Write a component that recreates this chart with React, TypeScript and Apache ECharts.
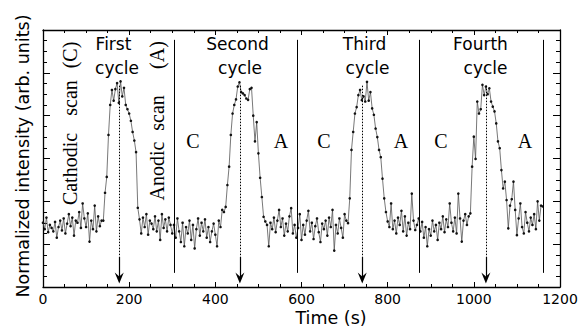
import React, { useEffect, useRef } from "react";
import * as echarts from "echarts";

// Sampling interval of the recorded signal (seconds between points)
const SAMPLE_STEP_S = 4;

// Normalized intensity, one value every SAMPLE_STEP_S seconds from t = 0 s
const INTENSITY = [
  // 0 - 136 s
  1.50, 1.35, 1.62, 1.28, 1.45, 1.38, 1.30, 1.52, 1.15, 1.40,
  1.55, 1.32, 1.60, 1.25, 1.48, 1.70, 1.42, 1.62, 1.20, 1.55,
  1.50, 1.75, 1.38, 1.95, 1.60, 1.40, 1.72, 1.06, 1.55, 1.35,
  1.90, 1.30, 1.65, 1.42, 1.55,
  // 140 - 224 s (first peak)
  1.55, 2.20, 2.57, 3.55, 4.25, 4.60, 4.35, 4.62, 4.76, 4.30,
  4.80, 4.45, 4.65, 4.25, 4.15, 4.05, 3.88, 3.62, 3.42, 3.15,
  1.85, 1.58,
  // 228 - 300 s
  1.25, 1.62, 1.40, 1.70, 1.22, 1.55, 1.48, 1.35, 1.65, 1.30,
  1.55, 1.10, 1.70, 1.38, 1.58, 1.30, 1.62, 1.45, 1.25,
  // 304 - 416 s
  1.45, 1.15, 1.60, 1.30, 1.05, 1.50, 0.95, 1.40, 1.25, 1.55,
  1.10, 1.45, 0.90, 1.35, 1.60, 1.20, 1.50, 1.30, 1.58, 1.15,
  1.40, 1.05, 1.30, 1.48, 1.22, 0.95, 1.55, 1.40, 1.80,
  // 420 - 516 s (second peak)
  1.75, 1.87, 2.38, 2.81, 3.55, 4.05, 4.25, 4.38, 4.68, 4.78,
  4.55, 4.52, 4.48, 4.40, 4.37, 4.62, 4.65, 4.00, 3.40, 3.85,
  3.12, 2.55, 2.10, 1.64, 1.53,
  // 520 - 704 s
  1.45, 0.95, 1.50, 1.35, 1.62, 1.28, 1.55, 1.80, 1.40, 1.60,
  1.20, 1.48, 1.30, 1.65, 1.84, 1.25, 1.45, 1.15, 1.38, 1.70,
  1.10, 1.45, 1.22, 1.55, 1.78, 1.30, 1.50, 1.12, 1.42, 1.60,
  1.28, 1.05, 1.48, 1.35, 1.55, 1.20, 1.62, 1.40, 1.80, 0.85,
  1.45, 1.25, 1.60, 1.38, 1.15, 1.70, 1.55,
  // 708 - 800 s (third peak)
  1.49, 2.07, 3.20, 3.62, 4.05, 4.20, 4.48, 4.60, 4.36, 4.45,
  4.33, 4.79, 4.35, 4.55, 4.17, 4.02, 3.70, 3.50, 3.20, 3.03,
  2.53, 2.07, 1.75, 1.53,
  // 804 - 988 s
  1.40, 1.95, 1.35, 1.55, 1.25, 1.62, 1.45, 1.78, 1.30, 1.65,
  1.20, 1.50, 1.35, 2.18, 1.55, 1.33, 1.45, 1.60, 1.30, 1.52,
  1.15, 1.40, 0.95, 1.35, 1.20, 1.55, 1.30, 1.45, 1.10, 1.50,
  1.35, 1.65, 1.28, 1.58, 1.40, 1.95, 1.50, 1.30, 1.62, 1.25,
  2.18, 1.60, 1.06, 1.55, 1.70, 1.45, 1.65,
  // 992 - 1100 s (fourth peak)
  1.72, 2.81, 3.51, 2.99, 4.33, 4.05, 4.15, 4.72, 4.48, 4.68,
  4.50, 4.64, 4.33, 4.21, 4.10, 3.82, 3.40, 3.24, 2.73, 2.30,
  2.46, 2.03, 1.37, 1.90, 2.05, 2.46, 1.80, 1.21,
  // 1104 - 1160 s
  1.60, 1.95, 1.40, 1.25, 1.75, 1.50, 1.30, 1.62, 1.45, 1.70,
  1.35, 2.00, 1.55, 1.90, 1.88,
];

// Cycle boundaries (solid vertical lines) and peak markers (dotted arrows), in s
const CYCLE_BOUNDARIES_S = [304, 589, 874, 1160];
const BOUNDARY_LOW = 0.33;
const BOUNDARY_HIGH = 5.77;
const PEAK_TIMES_S = [177, 457, 741, 1028];
const ARROW_TOP = 4.7;
const ARROW_STEM_TOP = 0.7;
const ARROW_TIP = 0.21;

const CYCLE_TITLES = ["First", "Second", "Third", "Fourth"];
const CYCLE_WORD = "cycle";

const SANS = "DejaVu Sans";
const SERIF = "Liberation Serif";

export default function App() {
  const ref = useRef<HTMLDivElement>(null);

  useEffect(() => {
    if (!ref.current) return;
    const chart = echarts.init(ref.current, undefined, { renderer: "svg" });

    const points = INTENSITY.map((v, i) => [i * SAMPLE_STEP_S, v]);

    const axisCommon = {
      type: "value" as const,
      axisLine: { show: true, onZero: false, lineStyle: { color: "#000", width: 1.3 } },
      splitLine: { show: false },
    };

    const titlePos = [
      { x1: 113.5, x2: 117 },
      { x1: 237.5, x2: 240 },
      { x1: 364.5, x2: 367.5 },
      { x1: 480.5, x2: 485.5 },
    ];
    const cPos = [193, 324, 441];
    const aPos = [281, 401, 525];

    const graphics: any[] = [];
    CYCLE_TITLES.forEach((t, i) => {
      graphics.push({
        type: "text", x: titlePos[i].x1, y: 44, silent: true,
        style: { text: t, fontFamily: SANS, fontSize: 17, fill: "#000", align: "center", verticalAlign: "middle" },
      });
      graphics.push({
        type: "text", x: titlePos[i].x2, y: 68, silent: true,
        style: { text: CYCLE_WORD, fontFamily: SANS, fontSize: 17, fill: "#000", align: "center", verticalAlign: "middle" },
      });
    });
    cPos.forEach((x) =>
      graphics.push({
        type: "text", x, y: 141, silent: true,
        style: { text: "C", fontFamily: SERIF, fontSize: 20, fill: "#000", align: "center", verticalAlign: "middle" },
      })
    );
    aPos.forEach((x) =>
      graphics.push({
        type: "text", x, y: 141, silent: true,
        style: { text: "A", fontFamily: SERIF, fontSize: 20, fill: "#000", align: "center", verticalAlign: "middle" },
      })
    );
    const rotWord = (text: string, x: number, y: number) => ({
      type: "text", x, y, rotation: Math.PI / 2, silent: true,
      style: { text, fontFamily: SERIF, fontSize: 20, fill: "#000", align: "center", verticalAlign: "middle" },
    });
    graphics.push(rotWord("Cathodic", 70, 169));
    graphics.push(rotWord("scan", 70, 98));
    graphics.push(rotWord("(C)", 70, 55));
    graphics.push(rotWord("Anodic", 157, 171));
    graphics.push(rotWord("scan", 157, 113));
    graphics.push(rotWord("(A)", 157, 55));
    graphics.push({
      type: "text", x: 23, y: 156, rotation: Math.PI / 2, silent: true,
      style: { text: "Normalized intensity (arb. units)", fontFamily: SANS, fontSize: 17.5, fill: "#000", align: "center", verticalAlign: "middle" },
    });
    graphics.push({
      type: "text", x: 331, y: 318, silent: true,
      style: { text: "Time (s)", fontFamily: SANS, fontSize: 17.5, fill: "#000", align: "center", verticalAlign: "middle" },
    });

    const tickLabel = {
      show: true, color: "#000", fontFamily: SANS, fontSize: 14, margin: 5,
      formatter: (v: number) => String(v),
    };

    chart.setOption({
      animation: false,
      backgroundColor: "#fff",
      grid: { left: 43, right: 19, top: 30, bottom: 40, containLabel: false, outerBoundsMode: "none" },
      xAxis: [
        {
          ...axisCommon,
          position: "bottom",
          min: 0, max: 1200, interval: 200,
          axisTick: { show: true, inside: true, length: 5, lineStyle: { color: "#000" } },
          minorTick: { show: true, splitNumber: 4, length: 3, lineStyle: { color: "#000" } },
          axisLabel: tickLabel,
        },
        {
          ...axisCommon,
          position: "top",
          min: 0, max: 1200, interval: 200,
          axisTick: { show: true, inside: true, length: 5, lineStyle: { color: "#000" } },
          minorTick: { show: true, splitNumber: 4, length: 3, lineStyle: { color: "#000" } },
          axisLabel: { show: false },
        },
      ],
      yAxis: [
        {
          ...axisCommon,
          position: "left",
          min: 0, max: 6, interval: 1,
          axisTick: { show: true, inside: true, length: 7, lineStyle: { color: "#000" } },
          minorTick: { show: true, splitNumber: 4, length: 4, lineStyle: { color: "#000" } },
          axisLabel: { show: false },
        },
        {
          ...axisCommon,
          position: "right",
          min: 0, max: 6, interval: 1,
          axisTick: { show: true, inside: true, length: 7, lineStyle: { color: "#000" } },
          minorTick: { show: true, splitNumber: 4, length: 4, lineStyle: { color: "#000" } },
          axisLabel: { show: false },
        },
      ],
      series: [
        {
          type: "line",
          data: points,
          symbol: "circle",
          symbolSize: 2.6,
          showSymbol: true,
          showAllSymbol: true,
          lineStyle: { color: "#555", width: 0.8 },
          itemStyle: { color: "#111" },
          silent: true,
          z: 3,
        },
        {
          type: "line",
          data: [],
          silent: true,
          markLine: {
            silent: true,
            animation: false,
            symbol: ["none", "none"],
            label: { show: false },
            lineStyle: { color: "#000", width: 1, type: "solid" },
            data: CYCLE_BOUNDARIES_S.map((t) => [
              { coord: [t, BOUNDARY_LOW] },
              { coord: [t, BOUNDARY_HIGH] },
            ]),
          },
        },
        {
          type: "line",
          data: [],
          silent: true,
          markLine: {
            silent: true,
            animation: false,
            symbol: ["none", "none"],
            label: { show: false },
            lineStyle: { color: "#000", width: 1, type: [1.5, 1.5] },
            data: PEAK_TIMES_S.map((t) => [
              { coord: [t, ARROW_TOP] },
              { coord: [t, ARROW_STEM_TOP] },
            ]),
          },
        },
        {
          type: "line",
          data: [],
          silent: true,
          markLine: {
            silent: true,
            animation: false,
            symbol: ["none", "path://M5,0 L10,11 L5,7 L0,11 Z"],
            symbolSize: [9, 11],
            label: { show: false },
            lineStyle: { color: "#000", width: 1.2, type: "solid" },
            itemStyle: { color: "#000" },
            data: PEAK_TIMES_S.map((t) => [
              { coord: [t, ARROW_STEM_TOP] },
              { coord: [t, ARROW_TIP] },
            ]),
          },
        },
      ],
      graphic: graphics,
    });

    return () => chart.dispose();
  }, []);

  return (
    <div
      ref={ref}
      style={{ position: "absolute", left: 0, top: 0, width: 579, height: 327, background: "#fff" }}
    />
  );
}
